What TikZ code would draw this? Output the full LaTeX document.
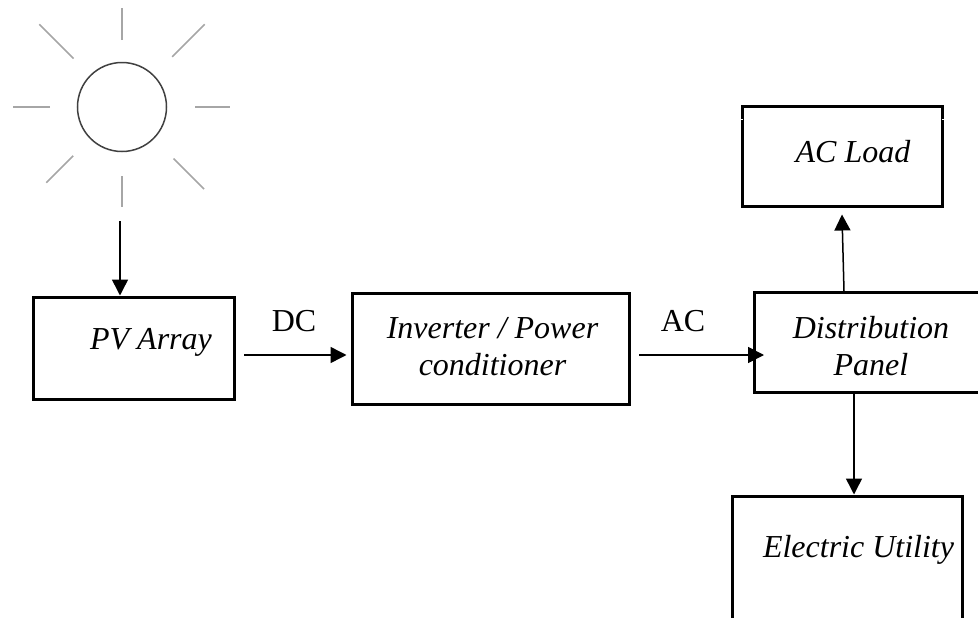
\documentclass[tikz,border=0pt]{standalone}
\usepackage{fontspec}
\setmainfont{Liberation Serif}
\usetikzlibrary{positioning}
\usetikzlibrary{arrows.meta}

\begin{document}
\begin{tikzpicture}[
    block/.style={
        rectangle,
        draw,
        line width=0.6mm,
        inner sep=0pt,
        },
    mylabel/.style={
        font=\fontsize{18.2}{21}\selectfont\itshape,
        align=center,
        },
    flowlabel/.style={
        font=\fontsize{18.2}{21}\selectfont,
        },
    sunray/.style={
        draw=black!35,
        line width=0.35mm,
        },
    ArrowC1/.style={
        line width=0.3mm,
        -{Triangle[length=3.2mm,width=3.2mm]},
        },
    ]

    \useasboundingbox (0,0) rectangle (19.56,12.34);

    % sun
    \node [circle, draw=black!75, line width=0.3mm, minimum size=1.78cm, inner sep=0pt] (sun) at (2.44,10.2) {};
    \foreach \ang/\rfrom/\rto in {0/1.46/2.16, 45/1.42/2.34, 90/1.34/1.98, 135/1.37/2.34, 180/1.44/2.18, 225/1.38/2.14, 270/1.38/2.0, 315/1.46/2.32}
        \draw [sunray] (sun.center)++(\ang:\rfrom) -- ++(\ang:\rto-\rfrom);

    % boxes
    \node [block, minimum width=4cm, minimum height=2.04cm] (pv) at (2.68,5.38) {};
    \node [block, minimum width=5.54cm, minimum height=2.22cm] (inverter) at (9.81,5.37) {};
    \node [block, minimum width=4.7cm, minimum height=2cm] (panel) at (17.43,5.49) {};
    \node [block, minimum width=4cm, minimum height=2cm] (load) at (16.84,9.22) {};
    \node [block, minimum width=4.6cm, minimum height=3cm] (utility) at (16.94,0.92) {};

    \node [mylabel] (pvtext) at (3.02,5.5) {PV Array};
    \node [mylabel] (invertertext) at (9.85,5.4) {Inverter / Power\\conditioner};
    \node [mylabel] (paneltext) at (17.42,5.42) {Distribution\\Panel};
    \node [mylabel] (loadtext) at (17.06,9.3) {AC Load};
    \node [mylabel] (utilitytext) at (17.17,1.34) {Electric Utility};

    \node [flowlabel] (dc) at (5.88,5.92) {DC};
    \node [flowlabel] (ac) at (13.66,5.92) {AC};

    % free ends of the arrows
    \coordinate (sunend) at (2.4,7.92);
    \coordinate (dcstart) at (4.88,5.24);
    \coordinate (acstart) at (12.78,5.24);
    \coordinate (acend) at (15.28,5.24);

    \draw [ArrowC1] (sunend) -- (sunend |- pv.north);
    \draw [ArrowC1] (dcstart) -- ([xshift=-0.08cm]dcstart -| inverter.west);
    \draw [ArrowC1] (acstart) -- (acend);
    \draw [ArrowC1] ([xshift=-0.55cm]panel.north) -- ([yshift=-0.14cm]load.south);
    \draw [ArrowC1] ([xshift=-0.35cm,yshift=0.06cm]panel.south) -- ([xshift=-0.35cm]panel.south |- utility.north);

    % gaps in the load box
    \draw [white, line width=0.3mm] ([yshift=-0.3cm,xshift=-0.04cm]load.north west) -- ([yshift=-0.3cm,xshift=0.04cm]load.north west);
    \draw [white, line width=0.3mm] ([yshift=-0.3cm,xshift=-0.04cm]load.north east) -- ([yshift=-0.3cm,xshift=0.04cm]load.north east);

\end{tikzpicture}
\end{document}
